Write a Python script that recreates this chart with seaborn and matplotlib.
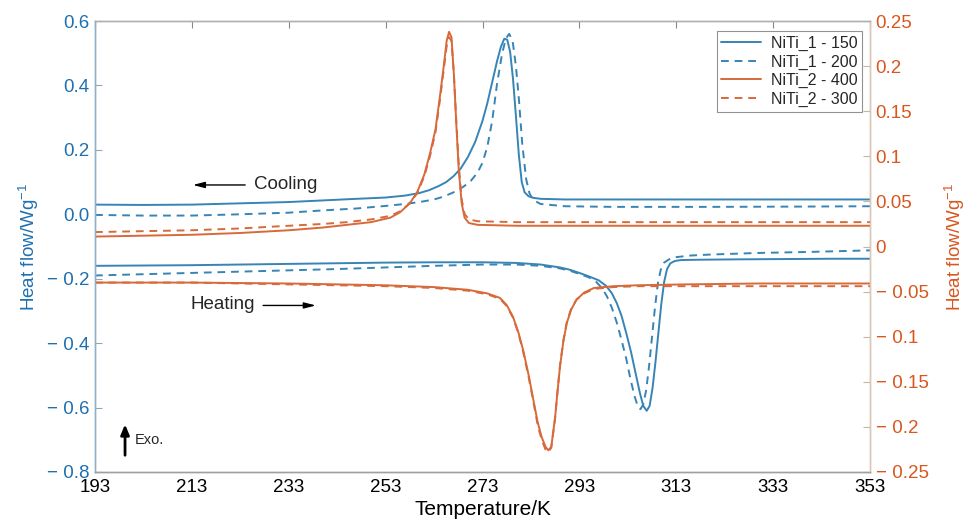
import numpy as np
import pandas as pd
import matplotlib
matplotlib.use("Agg")
import matplotlib.pyplot as plt
import seaborn as sns

# ---------------- data ----------------
# NiTi_1 - 150, cooling (left axis)
T_c1s = [193, 203, 213, 223, 233, 240, 247, 253, 257, 260, 262, 264, 265.5, 267, 268.5, 270, 271.5,
         273, 274, 275, 276, 276.8, 277.5, 278.1, 278.7, 279.3, 279.9, 280.5, 281.1, 281.7, 282.5,
         283.5, 285, 290, 300, 320, 340, 353]
v_c1s = [0.030, 0.029, 0.030, 0.034, 0.038, 0.043, 0.048, 0.052, 0.058, 0.066, 0.075, 0.088, 0.100, 0.118, 0.142, 0.178, 0.225,
         0.290, 0.345, 0.410, 0.475, 0.520, 0.545, 0.542, 0.505, 0.420, 0.305, 0.185, 0.100, 0.068, 0.056,
         0.051, 0.048, 0.046, 0.046, 0.046, 0.046, 0.046]
# NiTi_1 - 200, cooling (left axis)
T_c1d = [193, 203, 213, 223, 233, 240, 247, 253, 257, 260, 263, 265, 267, 269, 270.5, 272,
         273, 274, 275, 276, 277, 277.8, 278.5, 279.2, 279.9, 280.5, 281.2, 282, 282.7, 283.5,
         285, 290, 300, 320, 340, 353]
v_c1d = [-0.002, -0.004, -0.004, 0.000, 0.005, 0.012, 0.018, 0.026, 0.032, 0.038, 0.046, 0.055, 0.068, 0.085, 0.102, 0.130,
         0.160, 0.210, 0.290, 0.405, 0.495, 0.545, 0.560, 0.540, 0.460, 0.360, 0.220, 0.110, 0.065, 0.044,
         0.032, 0.025, 0.023, 0.023, 0.024, 0.025]
# NiTi_1 - 150, heating (left axis)
T_h1s = [193, 203, 213, 223, 233, 243, 253, 263, 273, 280, 285, 289, 291, 293, 295, 297, 298.5, 299.7,
         300.7, 301.7, 302.7, 303.7, 304.7, 305.5, 306.2, 306.9, 307.5, 308.1, 308.7, 309.3, 309.9,
         310.5, 311.1, 311.8, 312.7, 314, 318, 325, 335, 345, 353]
v_h1s = [-0.160, -0.159, -0.158, -0.156, -0.154, -0.152, -0.150, -0.149, -0.149, -0.151, -0.156, -0.165, -0.172, -0.182, -0.193, -0.205, -0.222, -0.245,
         -0.275, -0.315, -0.370, -0.430, -0.500, -0.555, -0.595, -0.610, -0.595, -0.540, -0.460, -0.370, -0.280,
         -0.210, -0.170, -0.152, -0.145, -0.142, -0.141, -0.140, -0.139, -0.138, -0.138]
# NiTi_1 - 200, heating (left axis)
T_h1d = [193, 203, 213, 223, 233, 243, 253, 263, 273, 280, 285, 289, 291, 293, 295, 296.5, 297.7, 298.7,
         299.7, 300.7, 301.7, 302.7, 303.6, 304.4, 305.1, 305.6, 306.2, 306.8, 307.4, 308, 308.6,
         309.2, 309.8, 310.5, 311.5, 313, 316, 320, 330, 340, 353]
v_h1d = [-0.190, -0.186, -0.182, -0.178, -0.174, -0.170, -0.165, -0.160, -0.156, -0.156, -0.160, -0.168, -0.175, -0.185, -0.196, -0.210, -0.230, -0.255,
         -0.290, -0.335, -0.390, -0.450, -0.515, -0.565, -0.598, -0.605, -0.590, -0.545, -0.470, -0.380, -0.290,
         -0.215, -0.172, -0.150, -0.140, -0.133, -0.128, -0.125, -0.120, -0.117, -0.112]

# NiTi_2 - 400, cooling (right axis)
T_c2 = [193, 203, 213, 223, 233, 240, 245, 250, 254, 256, 258, 259.5, 261, 262.2, 263.3, 264.2, 265,
        265.6, 266.1, 266.6, 267.1, 267.6, 268.1, 268.7, 269.3, 270.2, 272, 280, 300, 320, 353]
v_c2s = [0.011, 0.012, 0.013, 0.015, 0.018, 0.021, 0.024, 0.027, 0.032, 0.038, 0.048, 0.060, 0.080, 0.104, 0.130, 0.166, 0.200,
         0.228, 0.238, 0.232, 0.190, 0.135, 0.085, 0.048, 0.032, 0.026, 0.024, 0.023, 0.023, 0.023, 0.023]
# NiTi_2 - 300, cooling (right axis)
v_c2d = [0.016, 0.017, 0.018, 0.020, 0.023, 0.025, 0.027, 0.030, 0.034, 0.039, 0.048, 0.059, 0.078, 0.101, 0.127, 0.162, 0.196,
         0.222, 0.232, 0.228, 0.190, 0.138, 0.090, 0.052, 0.036, 0.030, 0.028, 0.027, 0.027, 0.027, 0.027]

# NiTi_2 - 400 / 300, heating (right axis)
T_h2 = [193, 213, 233, 243, 253, 263, 270, 274, 276.6, 278, 279.3, 280.4, 281.4, 282.5, 283.5, 284.4, 285.2,
        286, 286.6, 287.2, 288, 288.5, 289, 289.7, 290.4, 291.3, 292.4, 294, 296, 300, 305, 315, 330, 353]
v_h2s = [-0.040, -0.040, -0.041, -0.042, -0.043, -0.045, -0.048, -0.052, -0.057, -0.065, -0.078, -0.095, -0.115, -0.142, -0.170, -0.195, -0.211,
         -0.222, -0.226, -0.222, -0.189, -0.160, -0.133, -0.105, -0.085, -0.070, -0.059, -0.051, -0.046, -0.044, -0.043, -0.042, -0.041, -0.041]
v_h2d = [-0.040, -0.040, -0.042, -0.043, -0.044, -0.046, -0.049, -0.053, -0.058, -0.066, -0.079, -0.096, -0.117, -0.144, -0.172, -0.198, -0.214,
         -0.225, -0.228, -0.223, -0.190, -0.160, -0.132, -0.104, -0.084, -0.069, -0.059, -0.052, -0.047, -0.045, -0.044, -0.044, -0.044, -0.044]

labels = ["NiTi_1 - 150", "NiTi_1 - 200", "NiTi_2 - 400", "NiTi_2 - 300"]
x_ticks = [193, 213, 233, 253, 273, 293, 313, 333, 353]
yl_ticks = [0.6, 0.4, 0.2, 0.0, -0.2, -0.4, -0.6, -0.8]
yl_labels = ["0.6", "0.4", "0.2", "0.0", "\u2212 0.2", "\u2212 0.4", "\u2212 0.6", "\u2212 0.8"]
yr_ticks = [0.25, 0.2, 0.15, 0.1, 0.05, 0, -0.05, -0.1, -0.15, -0.2, -0.25]
yr_labels = ["0.25", "0.2", "0.15", "0.1", "0.05", "0", "\u2212 0.05", "\u2212 0.1", "\u2212 0.15", "\u2212 0.2", "\u2212 0.25"]

# ---------------- style ----------------
sns.set_style("white")
plt.rcParams["font.family"] = ["Liberation Sans", "DejaVu Sans"]
plt.rcParams["mathtext.default"] = "regular"

BLUE = "#3784b5"
ORANGE = "#d7693a"
BLUE_TXT = "#1f70b0"
ORANGE_TXT = "#d9561f"
TICK_FS = 13.5

fig = plt.figure(figsize=(9.71, 5.30), dpi=100)
ax = fig.add_axes([95 / 971, 58 / 530, 775 / 971, 451 / 530])
ax2 = ax.twinx()

def df(t, v):
    return pd.DataFrame({"T": t, "v": v})

lw = 1.4
dash = (4, 3)
sns.lineplot(data=df(T_c1s, v_c1s), x="T", y="v", ax=ax, color=BLUE, lw=lw, label=labels[0])
sns.lineplot(data=df(T_h1s, v_h1s), x="T", y="v", ax=ax, color=BLUE, lw=lw)
sns.lineplot(data=df(T_c1d, v_c1d), x="T", y="v", ax=ax, color=BLUE, lw=lw,
             linestyle=(0, dash), label=labels[1])
sns.lineplot(data=df(T_h1d, v_h1d), x="T", y="v", ax=ax, color=BLUE, lw=lw, linestyle=(0, dash))

sns.lineplot(data=df(T_c2, v_c2s), x="T", y="v", ax=ax2, color=ORANGE, lw=lw, label=labels[2])
sns.lineplot(data=df(T_h2, v_h2s), x="T", y="v", ax=ax2, color=ORANGE, lw=lw)
sns.lineplot(data=df(T_c2, v_c2d), x="T", y="v", ax=ax2, color=ORANGE, lw=lw, linestyle=(0, dash), label=labels[3])
sns.lineplot(data=df(T_h2, v_h2d), x="T", y="v", ax=ax2, color=ORANGE, lw=lw, linestyle=(0, dash))

ax.set_xlim(193, 353)
ax.set_ylim(-0.8, 0.6)
ax2.set_ylim(-0.25, 0.25)

ax.set_xticks(x_ticks)
ax.set_xticklabels([str(t) for t in x_ticks], fontsize=TICK_FS, color="black")
ax.set_yticks(yl_ticks)
ax.set_yticklabels(yl_labels, fontsize=TICK_FS, color=BLUE_TXT)
ax2.set_yticks(yr_ticks)
ax2.set_yticklabels(yr_labels, fontsize=TICK_FS, color=ORANGE_TXT)

ax.tick_params(axis="x", direction="in", length=5, width=0.8, color="#888888", top=True, pad=5)
ax.tick_params(axis="y", direction="in", length=5, width=0.8, color="#8aa9c0", pad=4)
ax2.tick_params(axis="y", direction="in", length=5, width=0.8, color="#c9b3a2", pad=4)

ax.set_xlabel("Temperature/K", fontsize=15, color="black", labelpad=3)
ax.set_ylabel("Heat flow/Wg$^{-1}$", fontsize=13.5, color=BLUE_TXT, labelpad=4)
ax2.set_ylabel("Heat flow/Wg$^{-1}$", fontsize=13.5, color=ORANGE_TXT, labelpad=10)

for a in (ax, ax2):
    for s in a.spines.values():
        s.set_linewidth(1.0)
    a.spines["top"].set_color("#b0b0b0")
    a.spines["bottom"].set_color("#a0a0a0")
    a.spines["left"].set_color("#8fb0c6")
    a.spines["right"].set_color("#dcc6b4")

# legend
for a in (ax, ax2):
    lg = a.get_legend()
    if lg is not None:
        lg.remove()
h1, l1 = ax.get_legend_handles_labels()
h2, l2 = ax2.get_legend_handles_labels()
leg = ax2.legend(h1 + h2, l1 + l2, loc="upper right", bbox_to_anchor=(0.99, 0.978),
                 fontsize=11.5, frameon=True, fancybox=False, borderpad=0.3,
                 handlelength=2.5, handletextpad=0.6, labelspacing=0.22, borderaxespad=0)
leg.get_frame().set_edgecolor("#777777")
leg.get_frame().set_linewidth(0.8)

# annotations
arrow_kw = dict(arrowstyle="-|>,head_length=0.7,head_width=0.18", color="black", lw=1.0,
                shrinkA=0, shrinkB=0)
ax.annotate("", xy=(213.2, 0.091), xytext=(224.0, 0.091), arrowprops=arrow_kw)
ax.text(225.9, 0.091, "Cooling", fontsize=13.5, va="center", ha="left")
ax.text(212.8, -0.279, "Heating", fontsize=13.5, va="center", ha="left")
ax.annotate("", xy=(238.6, -0.283), xytext=(227.7, -0.283), arrowprops=arrow_kw)
ax.annotate("", xy=(199.2, -0.652), xytext=(199.2, -0.748),
            arrowprops=dict(arrowstyle="-|>,head_length=0.6,head_width=0.25", color="black",
                            lw=2.0, shrinkA=0, shrinkB=0))
ax.text(201.3, -0.70, "Exo.", fontsize=10.5, va="center", ha="left")

ax2.set_zorder(ax.get_zorder() + 1)
ax2.patch.set_visible(False)

fig.savefig("out.png", dpi=100)
